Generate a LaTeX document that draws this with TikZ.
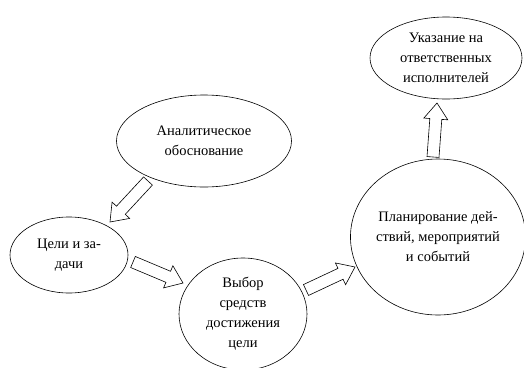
\documentclass[tikz,border=0pt]{standalone}
\usepackage{fontspec}
\setmainfont{Liberation Serif}
\usetikzlibrary{shapes.geometric,calc}

% полая блочная стрелка от #1 к #2
\newcommand\blockarrow[2]{%
  \draw[blk] ($(#1)!6pt!90:(#2)$) -- ($(#2)!16pt!(#1)!6pt!-90:(#1)$)
    -- ($(#2)!16pt!(#1)!12pt!-90:(#1)$) -- (#2)
    -- ($(#2)!16pt!(#1)!12pt!90:(#1)$) -- ($(#2)!16pt!(#1)!6pt!90:(#1)$)
    -- ($(#1)!6pt!-90:(#2)$) -- cycle;}

\begin{document}
\begin{tikzpicture}[x=1pt,y=-1pt]
    \tikzstyle{oval} = [shape=ellipse, draw=black, line width=0.6pt, align=center, inner sep=0pt, font=\fontsize{14.5}{20}\selectfont]
    \tikzstyle{blk} = [draw=black, line width=0.6pt, fill=white, line join=miter]
    \useasboundingbox (0,0) rectangle (524,367);

    % эллипсы
    \path   (204,141) node [oval, minimum width=175pt, minimum height=92pt, name=ana] {Аналитическое\\обоснование}
            (69,255)  node [oval, minimum width=118pt, minimum height=76pt, name=celi] {Цели и за-\\дачи}
            (243,314) node [oval, minimum width=128pt, minimum height=112pt, name=vybor] {Выбор\\средств\\достижения\\цели}
            (438,237) node [oval, minimum width=172pt, minimum height=156pt, name=plan] {Планирование дей-\\ствий, мероприятий\\и событий}
            (446,58)  node [oval, minimum width=152pt, minimum height=82pt, name=ukaz] {Указание на\\ответственных\\исполнителей};

    % концы стрелок
    \path   (148,181) coordinate (t1)  (110,222) coordinate (h1)
            (133,262) coordinate (t2)  (183,283) coordinate (h2)
            (306,290) coordinate (t3)  (355,267) coordinate (h3)
            (433,157) coordinate (t4)  (437,103) coordinate (h4);

    \blockarrow{t1}{h1}
    \blockarrow{t2}{h2}
    \blockarrow{t3}{h3}
    \blockarrow{t4}{h4}
\end{tikzpicture}
\end{document}
